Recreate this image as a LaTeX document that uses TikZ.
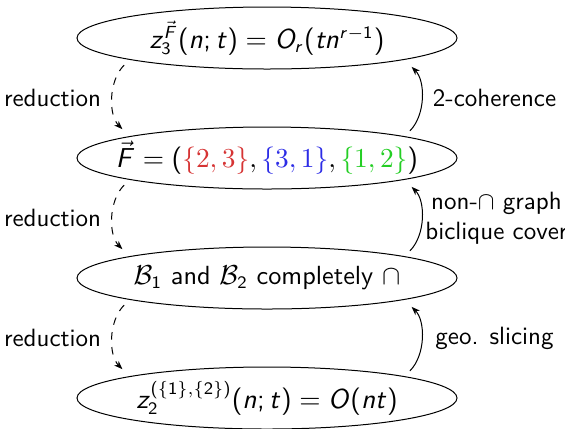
\documentclass[tikz,border=0pt]{standalone}
\usepackage{amsmath,amssymb}
\usepackage{xcolor}
\usepackage{tikz}
\usetikzlibrary{arrows.meta,shapes.geometric}

% sans serif math letters and digits
\DeclareSymbolFont{operators}{OT1}{cmss}{m}{n}
\DeclareSymbolFont{sfitalic}{OT1}{cmss}{m}{it}
\DeclareMathSymbol{z}{\mathalpha}{sfitalic}{`z}
\DeclareMathSymbol{n}{\mathalpha}{sfitalic}{`n}
\DeclareMathSymbol{t}{\mathalpha}{sfitalic}{`t}
\DeclareMathSymbol{r}{\mathalpha}{sfitalic}{`r}
\DeclareMathSymbol{F}{\mathalpha}{sfitalic}{`F}
\DeclareMathSymbol{O}{\mathalpha}{sfitalic}{`O}
\DeclareMathAlphabet{\mathserif}{OT1}{cmr}{m}{n}

\definecolor{setred}{RGB}{214,52,52}
\definecolor{setblue}{RGB}{44,44,230}
\definecolor{setgreen}{RGB}{36,206,36}
\newcommand{\pairset}[3]{\textcolor{#1}{\{\mathserif{#2},\mathserif{#3}\}}}

\begin{document}
\begin{tikzpicture}[x=0.40pt, y=-0.40pt, font=\sffamily,
    stage/.style={draw, ellipse, minimum width=152pt, minimum height=24.8pt,
      inner xsep=-10pt, inner ysep=0pt, font=\sffamily\fontsize{10.5}{12}\selectfont},
    reduce/.style={-{Stealth[length=1.2mm]}, dashed, shorten <=3pt, shorten >=4pt},
    lift/.style={-{Stealth[length=1.2mm]}, shorten <=3pt, shorten >=4pt}]
  \useasboundingbox (0,0) rectangle (565,428);
  \node[stage] (zthree) at (267,38) {$z_3^{\vec F}(n;t) = O_r(tn^{r-1})$};
  \node[stage] (fam) at (267,158)
    {$\vec F = (\pairset{setred}{2}{3}, \pairset{setblue}{3}{1}, \pairset{setgreen}{1}{2})$};
  \node[stage] (cross) at (267,278) {$\mathcal{B}_1$ and $\mathcal{B}_2$ completely $\cap$};
  \node[stage] (ztwo) at (267,398) {$z_2^{(\{1\},\{2\})}(n;t) = O(nt)$};
  % reductions, down the left side
  \draw[reduce] (zthree.-171) to[bend right=45] node[left=1.5pt] {reduction} (fam.171);
  \draw[reduce] (fam.-171) to[bend right=45] node[left=1.5pt] {reduction} (cross.171);
  \draw[reduce] (cross.-171) to[bend right=45] node[left=1.5pt] {reduction} (ztwo.171);
  % bounds, back up the right side
  \draw[lift] (fam.9) to[bend right=45] node[right=1.5pt] {2-coherence} (zthree.-9);
  \draw[lift] (cross.9) to[bend right=45] node[right=-1.5pt, align=center]
    {non-$\cap$ graph\\biclique cover} (fam.-9);
  \draw[lift] (ztwo.9) to[bend right=45] node[right=2.5pt] {geo. slicing} (cross.-9);
\end{tikzpicture}
\end{document}
